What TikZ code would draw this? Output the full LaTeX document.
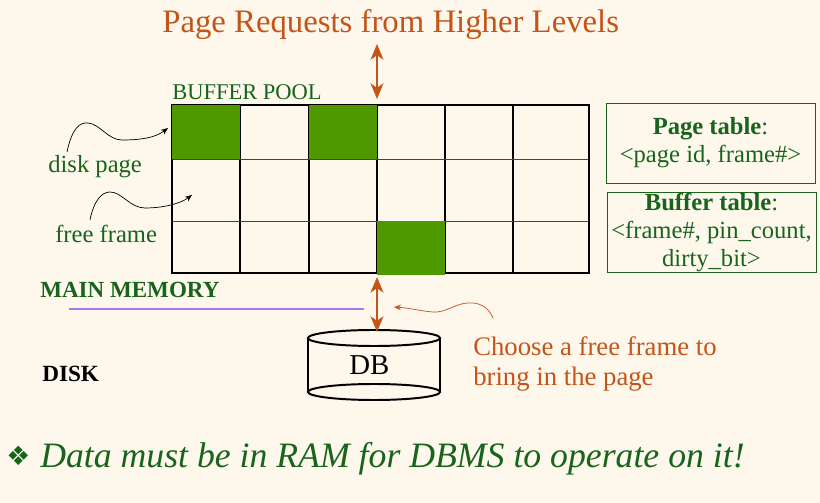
\documentclass[tikz,border=0pt]{standalone}
\usepackage{fontspec}
\setmainfont{Liberation Serif}[ItalicFont={Liberation Serif Italic},BoldFont={Liberation Serif Bold}]
\newfontfamily\dingfont{DejaVu Sans}
\usetikzlibrary{arrows.meta}
\definecolor{cream}{RGB}{253,247,236}
\definecolor{rust}{RGB}{196,84,24}
\definecolor{leaf}{RGB}{80,152,0}
\definecolor{pine}{RGB}{24,100,28}
\definecolor{memline}{RGB}{170,120,235}

\begin{document}
\begin{tikzpicture}
[
x=0.025cm, y=-0.025cm,
txt/.style 2 args={inner sep=0pt,anchor=base west,text=#1,font=\fontsize{#2}{#2}\selectfont},
tablebox/.style={draw=pine,thin,text=pine,align=center,inner sep=0pt,
            font=\fontsize{17.5pt}{20pt}\selectfont,minimum width=5.225cm,minimum height=2cm},
reqarrow/.style={rust,line width=2pt,{Stealth[length=11pt,width=9pt,inset=3pt]}-{Stealth[length=11pt,width=9pt,inset=3pt]}},
squig/.style={-{Stealth[length=5pt,width=4pt]},#1,line width=0.5pt},
]
\useasboundingbox[fill=cream] (0,0) rectangle (820,503);

%The frames of the pool
\foreach \x in {240,309,377,445,513} \draw[line width=0.9pt] (\x,105) -- (\x,273);
\foreach \y in {159,221} \draw[pine,line width=0.6pt] (172,\y) -- (589,\y);
\draw[line width=2pt] (172,105) rectangle (589,273);
\fill[leaf] (172,105) rectangle (240,159);
\fill[leaf] (309,105) rectangle (377,159);
\fill[leaf] (377,221) rectangle (445,275);

%The disk
\draw[line width=1.4pt] (374,338) ellipse [x radius=1.65cm,y radius=0.2cm];
\draw[line width=1.4pt] (374,392) ellipse [x radius=1.65cm,y radius=0.2cm];
\draw[line width=1.4pt] (308,338) -- (308,392) (440,338) -- (440,392);
\draw[memline,line width=0.8pt] (69,309) -- (364,309);

%Place the nodes
\node[txt={rust}{23.3pt}] (title) at (162,33) {Page Requests from Higher Levels};
\node[txt={pine}{16pt}] (pool) at (172,100) {BUFFER POOL};
\node[txt={pine}{17.5pt}] (dpage) at (48,173) {disk page};
\node[txt={pine}{17.5pt}] (fframe) at (55,243) {free frame};
\node[txt={pine}{16.4pt}] (mainmem) at (40,298) {\bfseries MAIN MEMORY};
\node[txt={black}{16.5pt}] (disk) at (42,382) {\bfseries DISK};
\node[txt={black}{20.5pt}] (db) at (349,375) {DB};
\node[txt={rust}{19pt},anchor=north west,align=left,font=\fontsize{19pt}{21.5pt}\selectfont] (choose) at (473,336)
            {Choose a free frame to\\bring in the page};
\node[tablebox] (ptable) at (710.5,143) {\textbf{Page table}:\\<page id, frame\#>};
\node[tablebox] (btable) at (711.5,232.5) {\textbf{Buffer table}:\\<frame\#, pin\_count,\\dirty\_bit>};
\node[txt={pine}{19pt}] (bullet) at (6,465) {\dingfont ❖};
\node[txt={pine}{25.4pt}] (ram) at (40,467) {\itshape Data must be in RAM for DBMS to operate on it!};

\coordinate (reqtop) at (377,44);
\coordinate (pooltop) at (377,99);
\coordinate (poolbot) at (377,277);
\coordinate (dbtop) at (377,332);
\coordinate (dpfrom) at (67,152);
\coordinate (dpcell) at (168,128);
\coordinate (fffrom) at (90,220);
\coordinate (ffcell) at (192,195);
\coordinate (chfrom) at (493,318);
\coordinate (charrow) at (394,307);

%Draw the connections
\draw[reqarrow] (reqtop) -- (pooltop);
\draw[reqarrow] (poolbot) -- (dbtop);
\draw[squig=black] (dpfrom) .. controls (72,128) and (80,122) .. (88,123)
            .. controls (100,124) and (108,140) .. (122,140) .. controls (140,140) and (155,138) .. (dpcell);
\draw[squig=black] (fffrom) .. controls (94,200) and (102,192) .. (110,192)
            .. controls (122,192) and (130,208) .. (145,208) .. controls (162,208) and (180,204) .. (ffcell);
\draw[squig=rust] (chfrom) .. controls (488,306) and (478,302) .. (467,303)
            .. controls (455,304) and (445,313) .. (433,312) .. controls (420,311) and (410,308) .. (charrow);
\end{tikzpicture}
\end{document}
